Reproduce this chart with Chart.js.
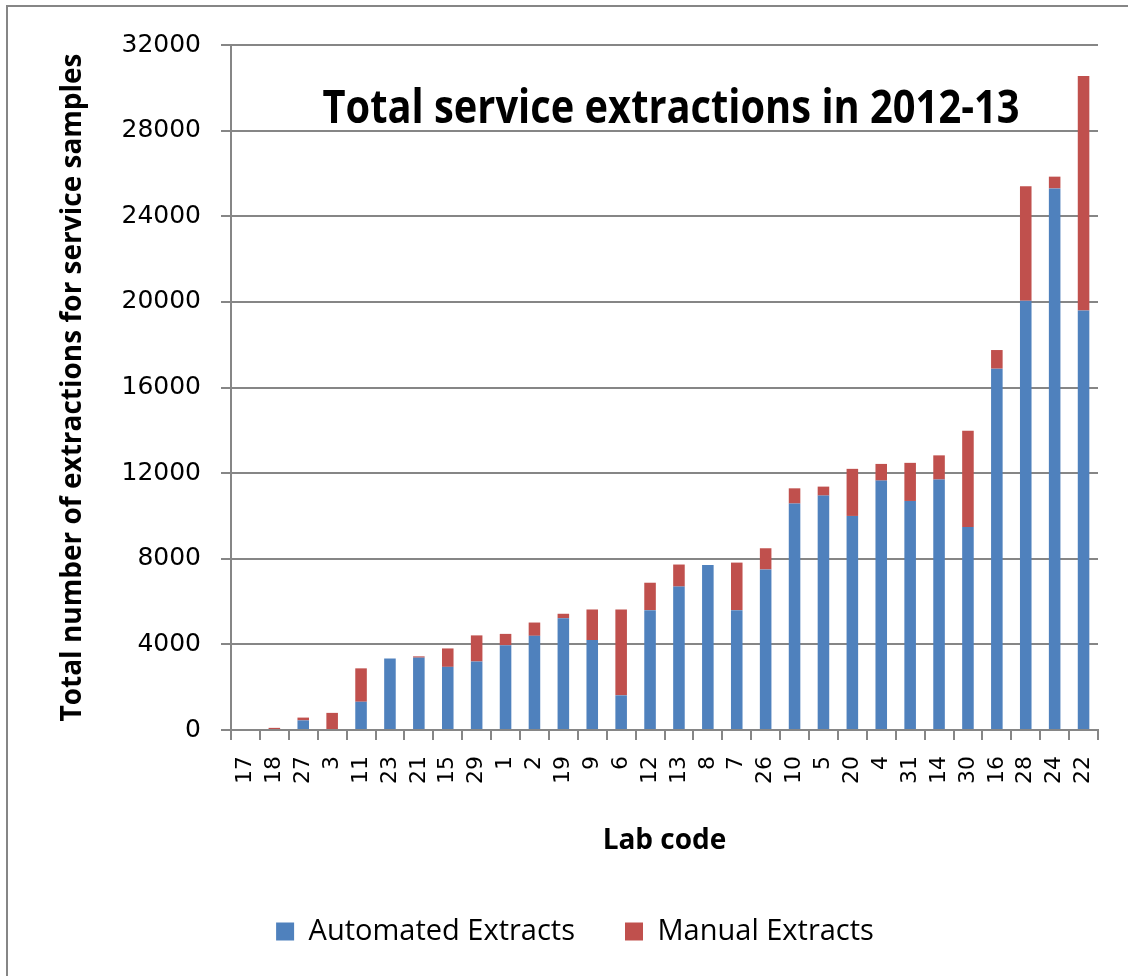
<!DOCTYPE html>
<html>
<head>
<meta charset="utf-8">
<script src="https://cdn.jsdelivr.net/npm/chart.js@4.4.0/dist/chart.umd.min.js"></script>
<style>
  html, body { margin: 0; padding: 0; background: #fff; }
</style>
</head>
<body>
<canvas id="myChart" width="1128" height="976"></canvas>
<script>
// Lab codes, ordered by total extractions
var labCodes = ['17', '18', '27', '3', '11', '23', '21', '15', '29', '1', '2', '19', '9', '6', '12',
                '13', '8', '7', '26', '10', '5', '20', '4', '31', '14', '30', '16', '28', '24', '22'];

// Extractions per lab, 2012-13
var automatedExtracts = [0, 0, 450, 0, 1320, 3340, 3380, 2950, 3200, 3960, 4400, 5220, 4200, 1620, 5600,
                         6700, 7710, 5600, 7500, 10580, 10950, 10000, 11650, 10700, 11700, 9480, 16880, 20050, 25300, 19600];
var manualExtracts = [0, 100, 130, 800, 1560, 0, 60, 860, 1220, 530, 620, 210, 1430, 4010, 1280,
                      1030, 0, 2220, 990, 710, 420, 2200, 780, 1780, 1130, 4500, 870, 5350, 550, 10950];

var yTicks = [0, 4000, 8000, 12000, 16000, 20000, 24000, 28000, 32000];

var gridGrey = '#868686';

// Grey frame round the chart
var framePlugin = {
    id: 'frame',
    beforeDraw: function(chart) {
        var ctx = chart.ctx;
        ctx.save();
        ctx.fillStyle = '#ffffff';
        ctx.fillRect(0, 0, chart.width, chart.height);
        ctx.strokeStyle = gridGrey;
        ctx.lineWidth = 2;
        ctx.strokeRect(7, 6, chart.width + 10, chart.height + 10);
        ctx.restore();
    }
};

// Chart title sits inside the plot area
var titlePlugin = {
    id: 'innerTitle',
    afterDraw: function(chart) {
        var ctx = chart.ctx;
        var area = chart.chartArea;
        var text = 'Total service extractions in 2012-13';
        ctx.save();
        ctx.font = 'bold 46px "Open Sans"';
        var w = ctx.measureText(text).width;
        var sx = 697 / w;
        ctx.translate(area.left + 440, area.top + 78);
        ctx.scale(sx, 1);
        ctx.fillStyle = '#000';
        ctx.textAlign = 'center';
        ctx.textBaseline = 'alphabetic';
        ctx.fillText(text, 0, 0);
        ctx.restore();
    }
};

var ctx = document.getElementById('myChart').getContext('2d');
var myChart = new Chart(ctx, {
    type: 'bar',
    data: {
        labels: labCodes,
        datasets: [{
            label: 'Automated Extracts',
            data: automatedExtracts,
            backgroundColor: '#4F81BD',
            barPercentage: 0.4,
            categoryPercentage: 1.0
        }, {
            label: 'Manual Extracts',
            data: manualExtracts,
            backgroundColor: '#C0504D',
            barPercentage: 0.4,
            categoryPercentage: 1.0
        }]
    },
    options: {
        responsive: false,
        animation: false,
        devicePixelRatio: 1,
        layout: {
            padding: { left: 52, right: 30, top: 45, bottom: 20 }
        },
        plugins: {
            legend: {
                position: 'bottom',
                labels: {
                    boxWidth: 18,
                    boxHeight: 18,
                    padding: 50,
                    color: '#000',
                    font: { family: '"Open Sans"', size: 29 }
                }
            },
            tooltip: { enabled: false }
        },
        scales: {
            x: {
                stacked: true,
                afterFit: function(scale) { scale.height = 137; },
                grid: {
                    drawOnChartArea: false,
                    color: gridGrey,
                    lineWidth: 2,
                    tickLength: 10
                },
                border: { color: gridGrey, width: 2 },
                ticks: {
                    autoSkip: false,
                    minRotation: 90,
                    maxRotation: 90,
                    padding: 16,
                    color: '#000',
                    font: { family: '"DejaVu Sans"', size: 22 }
                },
                title: {
                    display: true,
                    text: 'Lab code',
                    color: '#000',
                    padding: { top: 4, bottom: 9 },
                    font: { family: '"Open Sans"', size: 28, weight: 'bold' }
                }
            },
            y: {
                stacked: true,
                min: 0,
                max: 32000,
                afterFit: function(scale) { scale.width = 179; },
                afterBuildTicks: function(scale) {
                    scale.ticks = yTicks.map(function(v) { return { value: v }; });
                },
                grid: {
                    color: gridGrey,
                    lineWidth: 2,
                    tickLength: 10
                },
                border: { color: gridGrey, width: 2 },
                ticks: {
                    padding: 20,
                    color: '#000',
                    font: { family: '"DejaVu Sans"', size: 25 },
                    callback: function(value) { return String(value); }
                },
                title: {
                    display: true,
                    text: 'Total number of extractions for service samples',
                    color: '#000',
                    padding: { top: 4, bottom: 4 },
                    font: { family: '"Open Sans"', size: 28, weight: 'bold' }
                }
            }
        }
    },
    plugins: [framePlugin, titlePlugin]
});
</script>
</body>
</html>
